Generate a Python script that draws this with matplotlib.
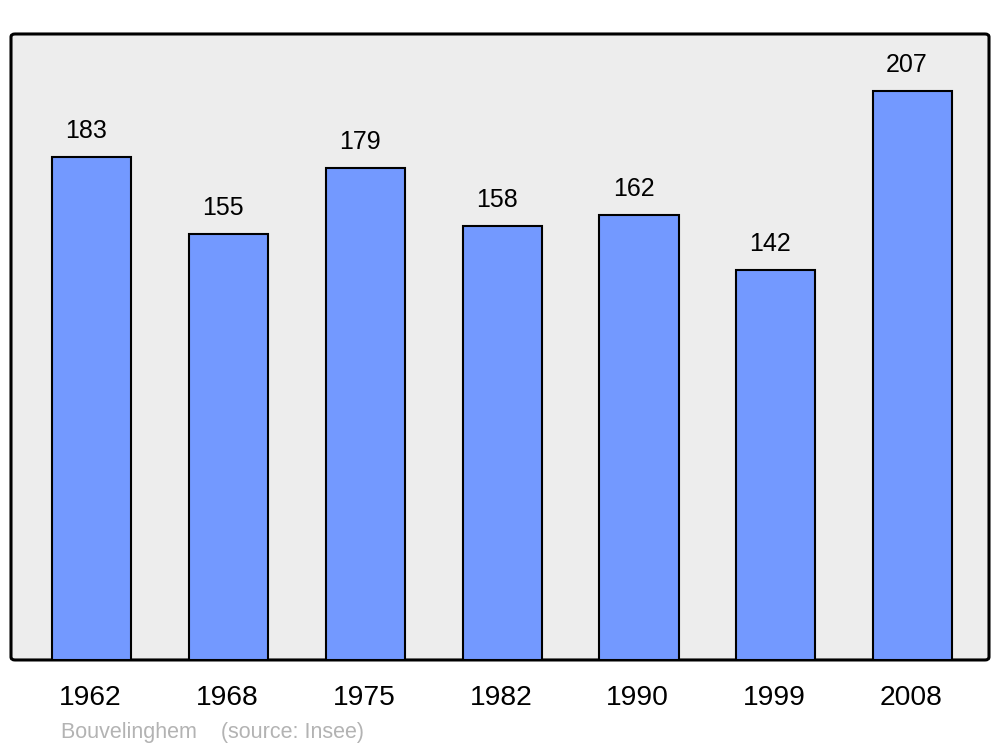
import matplotlib
matplotlib.use("Agg")
import matplotlib.pyplot as plt
from matplotlib.patches import FancyBboxPatch

plt.rcParams['font.family'] = ['Liberation Sans', 'DejaVu Sans']

# Population data
years = ["1962", "1968", "1975", "1982", "1990", "1999", "2008"]
population = [183, 155, 179, 158, 162, 142, 207]
caption = "Bouvelinghem    (source: Insee)"

fig = plt.figure(figsize=(10, 7.47), dpi=100)
ax = fig.add_axes([0.011, 0.1165, 0.978, 0.838])
ax.set_facecolor("none")

# Rounded grey frame behind the bars
frame = FancyBboxPatch((0.011, 0.1165), 0.978, 0.838,
                       boxstyle="round,pad=0,rounding_size=0.004",
                       transform=fig.transFigure, facecolor="#ededed",
                       edgecolor="black", linewidth=2.2, zorder=0.5,
                       clip_on=False)
ax.add_patch(frame)

x = range(len(years))
bars = ax.bar(x, population, width=0.578, color="#7399ff",
              edgecolor="black", linewidth=1.5, zorder=2)

for xi, val in zip(x, population):
    ax.annotate(str(val), (xi, val), xytext=(-4, 13.5),
                textcoords="offset points", ha="center", va="baseline",
                fontsize=18)
    ax.annotate(years[xi], (xi, 0), xycoords=("data", "axes fraction"),
                xytext=(-1, -32.5), textcoords="offset points",
                ha="center", va="baseline", fontsize=20.3)

ax.set_xlim(-0.592, 6.559)
ax.set_ylim(0, 227.7)
ax.set_xticks([])
ax.set_yticks([])
for s in ax.spines.values():
    s.set_visible(False)

fig.text(0.061, 0.0115, caption, color="#b3b3b3", fontsize=15.5,
         ha="left", va="baseline", transform=fig.transFigure)

fig.savefig("out.png", dpi=100)
